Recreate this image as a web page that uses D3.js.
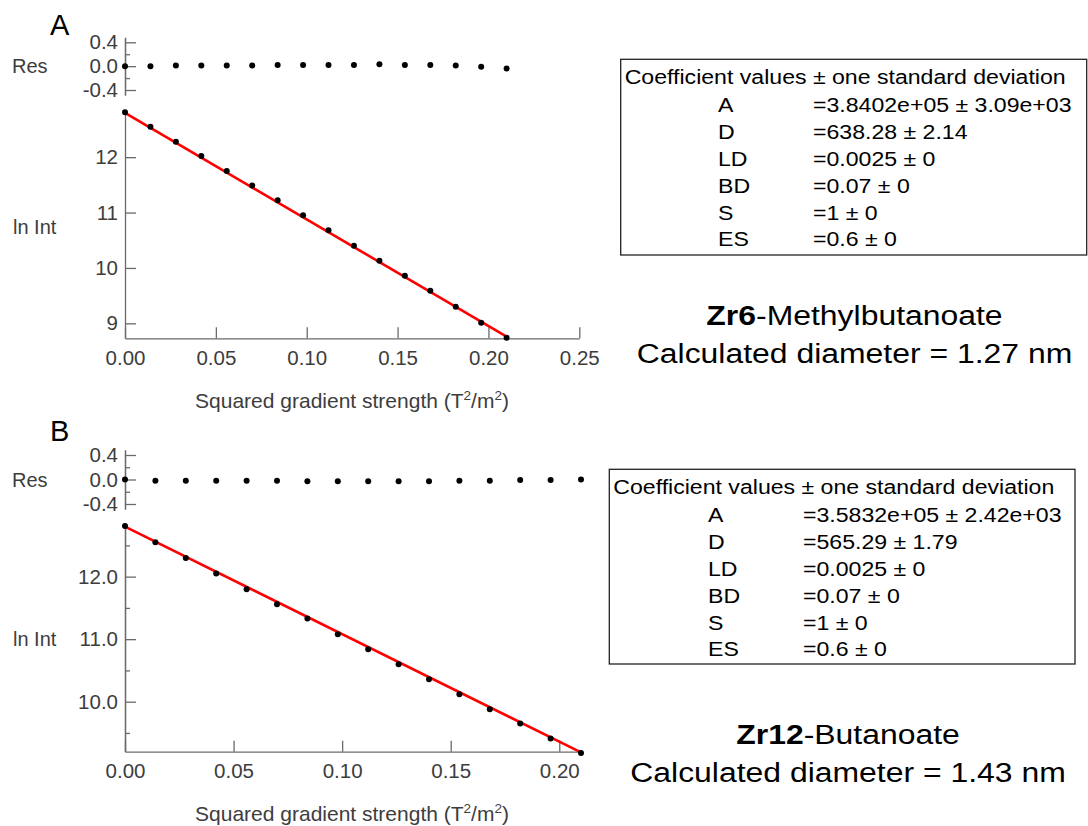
<!DOCTYPE html>
<html>
<head>
<meta charset="utf-8">
<script src="https://cdn.jsdelivr.net/npm/d3@7"></script>
<style>
  body { margin: 0; background: #fff; }
  svg { font-family: "Liberation Sans", Arial, sans-serif; }
  .axis path, .axis line { stroke: #6a6a6a; stroke-width: 1.3; }
  .axis text { fill: #3d3d3d; font-size: 20.5px; font-family: "Liberation Sans", Arial, sans-serif; }
</style>
</head>
<body>
<script>
// ---- data ----
const gradA = [0, 0.014, 0.028, 0.042, 0.056, 0.070, 0.084, 0.098, 0.112, 0.126, 0.140, 0.154, 0.168, 0.182, 0.196, 0.210];
const lnIntA = [12.81, 12.55, 12.28, 12.02, 11.75, 11.49, 11.22, 10.95, 10.68, 10.40, 10.13, 9.86, 9.59, 9.30, 9.01, 8.74];
const resA = [0.0, 0.0, 0.01, 0.01, 0.01, 0.01, 0.02, 0.02, 0.02, 0.02, 0.03, 0.02, 0.02, 0.01, -0.01, -0.04];
const fitA = [[0, 12.80], [0.21, 8.76]];

const gradB = [0, 0.014, 0.028, 0.042, 0.056, 0.070, 0.084, 0.098, 0.112, 0.126, 0.140, 0.154, 0.168, 0.182, 0.196, 0.210];
const lnIntB = [12.81, 12.55, 12.30, 12.05, 11.80, 11.56, 11.33, 11.08, 10.84, 10.60, 10.36, 10.12, 9.88, 9.65, 9.41, 9.18];
const resB = [0.0, -0.02, -0.02, -0.02, -0.02, -0.02, -0.03, -0.03, -0.03, -0.03, -0.03, -0.02, -0.02, -0.01, -0.01, 0.0];
const fitB = [[0, 12.80], [0.21, 9.19]];

const coefNames = ["A", "D", "LD", "BD", "S", "ES"];
const coefA = ["=3.8402e+05 \u00b1 3.09e+03", "=638.28 \u00b1 2.14", "=0.0025 \u00b1 0", "=0.07 \u00b1 0", "=1 \u00b1 0", "=0.6 \u00b1 0"];
const coefB = ["=3.5832e+05 \u00b1 2.42e+03", "=565.29 \u00b1 1.79", "=0.0025 \u00b1 0", "=0.07 \u00b1 0", "=1 \u00b1 0", "=0.6 \u00b1 0"];

const resTicks = [-0.4, 0, 0.4];
const resMinor = [-0.2, 0.2];
const xTicksA = [0, 0.05, 0.10, 0.15, 0.20, 0.25];
const xTicksB = [0, 0.05, 0.10, 0.15, 0.20];
const yTicksA = [9, 10, 11, 12];
const yTicksB = [10, 11, 12];
const yMinorB = [9.5, 10.5, 11.5, 12.5];

const svg = d3.select("body").append("svg")
  .attr("width", 1088)
  .attr("height", 826);

const hyphen = f => d => f(d).replace("\u2212", "-");

function leftAxis(scale, major, minor, fmt) {
  const g = svg.append("g").attr("class", "axis").attr("transform", "translate(125,0)");
  if (minor) {
    g.append("g").call(d3.axisLeft(scale).tickValues(minor).tickSize(-5).tickSizeOuter(0).tickFormat(""));
  }
  g.append("g").call(d3.axisLeft(scale).tickValues(major).tickSize(-11).tickSizeOuter(0).tickPadding(7).tickFormat(fmt));
}

function bottomAxis(scale, y, ticks) {
  svg.append("g").attr("class", "axis")
    .attr("transform", `translate(0,${y})`)
    .call(d3.axisBottom(scale).tickValues(ticks).tickSize(-11).tickSizeOuter(0).tickPadding(12)
      .tickFormat(hyphen(d3.format(".2f"))));
}

function drawPanel(p) {
  const x = d3.scaleLinear().domain(p.xDomain).range([125, p.xRight]);
  const yRes = d3.scaleLinear().domain([-0.4, 0.4]).range(p.resRange);
  const resPad = 5;
  const yResAxis = d3.scaleLinear()
    .domain([yRes.invert(p.resRange[0] + resPad), yRes.invert(p.resRange[1] - resPad)])
    .range([p.resRange[0] + resPad, p.resRange[1] - resPad]);
  const y = d3.scaleLinear().domain(p.yDomain).range(p.yRange);

  // panel letter
  svg.append("text").attr("x", 50).attr("y", p.letterY)
    .attr("font-size", 29).attr("fill", "#000").text(p.letter);

  // residuals
  leftAxis(yResAxis, resTicks, resMinor, hyphen(d3.format(".1f")));
  svg.append("text").attr("x", 12).attr("y", yRes(0) + 7)
    .attr("font-size", 20).attr("fill", "#3d3d3d").text("Res");
  svg.append("g").selectAll("circle")
    .data(p.grad)
    .join("circle")
    .attr("cx", d => x(d))
    .attr("cy", (d, i) => yRes(p.res[i]))
    .attr("r", 3)
    .attr("fill", "#000");

  // main plot
  leftAxis(y, p.yTicks, p.yMinor, hyphen(d3.format(p.yFmt)));
  bottomAxis(x, p.yRange[0], p.xTicks);
  svg.append("text").attr("x", 13).attr("y", p.lnIntY)
    .attr("font-size", 20).attr("fill", "#3d3d3d").text("ln Int");

  const line = d3.line().x(d => x(d[0])).y(d => y(d[1]));
  svg.append("path")
    .attr("d", line(p.fit))
    .attr("fill", "none")
    .attr("stroke", "#ff0000")
    .attr("stroke-width", 2.6);

  svg.append("g").selectAll("circle")
    .data(p.grad)
    .join("circle")
    .attr("cx", d => x(d))
    .attr("cy", (d, i) => y(p.lnInt[i]))
    .attr("r", 3)
    .attr("fill", "#000");

  // x title
  const t = svg.append("text").attr("x", 352).attr("y", p.titleY)
    .attr("text-anchor", "middle").attr("font-size", 21).attr("fill", "#3d3d3d");
  t.append("tspan").text("Squared gradient strength (T");
  t.append("tspan").attr("font-size", 13.5).attr("dy", -8).text("2");
  t.append("tspan").attr("dy", 8).text("/m");
  t.append("tspan").attr("font-size", 13.5).attr("dy", -8).text("2");
  t.append("tspan").attr("dy", 8).text(")");

  // coefficient box
  const b = p.box;
  svg.append("rect")
    .attr("x", b.x).attr("y", b.y).attr("width", b.w).attr("height", b.h)
    .attr("fill", "none").attr("stroke", "#222").attr("stroke-width", 1.3);
  const sx = 1.1;
  svg.append("text")
    .attr("transform", `translate(${b.x + 4},${b.y + 25}) scale(${sx},1)`)
    .attr("font-size", 21).attr("fill", "#000")
    .text("Coefficient values \u00b1 one standard deviation");
  coefNames.forEach((n, i) => {
    const yy = b.y + 53 + i * 26.8;
    svg.append("text")
      .attr("transform", `translate(${b.labelX},${yy}) scale(${sx},1)`)
      .attr("font-size", 21).attr("fill", "#000").text(n);
    svg.append("text")
      .attr("transform", `translate(${b.valueX},${yy}) scale(${sx},1)`)
      .attr("font-size", 21).attr("fill", "#000").text(p.coef[i]);
  });

  // sample annotation
  const a1 = svg.append("text")
    .attr("transform", `translate(${p.noteX},${p.noteY}) scale(1.14,1)`)
    .attr("text-anchor", "middle").attr("font-size", 28).attr("fill", "#000");
  a1.append("tspan").attr("font-weight", "bold").text(p.sample[0]);
  a1.append("tspan").text(p.sample[1]);
  svg.append("text")
    .attr("transform", `translate(${p.noteX},${p.noteY + 38}) scale(1.14,1)`)
    .attr("text-anchor", "middle").attr("font-size", 28).attr("fill", "#000")
    .text(p.diameter);
}

drawPanel({
  letter: "A", letterY: 35,
  grad: gradA, lnInt: lnIntA, res: resA, fit: fitA,
  xDomain: [0, 0.25], xRight: 579.3, xTicks: xTicksA,
  resRange: [90, 42.3],
  yDomain: [8.73, 12.81], yRange: [338.3, 112.3], yTicks: yTicksA, yMinor: null, yFmt: "d",
  lnIntY: 234, titleY: 407.5,
  box: { x: 620.7, y: 59.3, w: 466, h: 195.7, labelX: 718, valueX: 813 },
  coef: coefA,
  sample: ["Zr6", "-Methylbutanoate"], diameter: "Calculated diameter = 1.27 nm",
  noteX: 854.5, noteY: 325
});

drawPanel({
  letter: "B", letterY: 441,
  grad: gradB, lnInt: lnIntB, res: resB, fit: fitB,
  xDomain: [0, 0.21], xRight: 581, xTicks: xTicksB,
  resRange: [504, 455],
  yDomain: [9.2, 12.81], yRange: [751.7, 526], yTicks: yTicksB, yMinor: yMinorB, yFmt: ".1f",
  lnIntY: 646, titleY: 821,
  box: { x: 609.3, y: 469.3, w: 465.7, h: 194.7, labelX: 708, valueX: 803 },
  coef: coefB,
  sample: ["Zr12", "-Butanoate"], diameter: "Calculated diameter = 1.43 nm",
  noteX: 848, noteY: 744
});
</script>
</body>
</html>
